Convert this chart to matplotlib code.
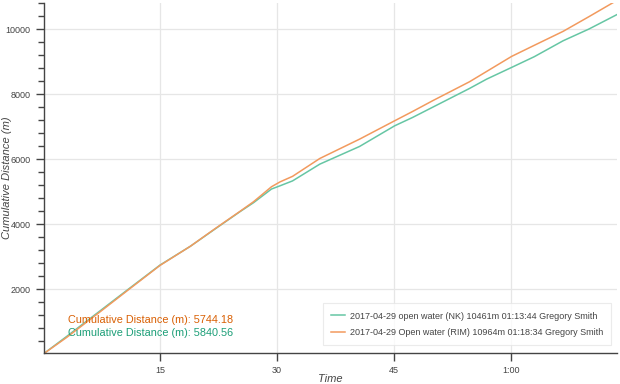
import matplotlib
matplotlib.use("Agg")
import matplotlib.pyplot as plt
from matplotlib.ticker import FixedLocator, MultipleLocator, FuncFormatter

plt.rcParams['font.family'] = ['Liberation Sans', 'DejaVu Sans']

# elapsed time in minutes, cumulative distance in metres
t_nk = [0, 3, 7.3, 11, 15, 18.9, 22, 25.3, 27, 29.3, 30.4, 32, 35.5, 40.6,
        45.1, 47.4, 50, 54.7, 56.9, 60.1, 63, 66.7, 70, 73.73]
d_nk = [0, 540, 1330, 2010, 2740, 3320, 3840, 4390, 4660, 5080, 5180, 5330,
        5846, 6390, 7025, 7282, 7600, 8174, 8461, 8821, 9150, 9640, 10000, 10461]

t_rim = [0, 3, 7.3, 11, 15, 18.9, 22, 25.3, 27, 29.3, 30.4, 32, 35.5, 40.6,
         45.1, 47.4, 50, 54.7, 60.1, 63, 66.7, 70, 73.3, 74.2]
d_rim = [0, 510, 1300, 1990, 2730, 3320, 3850, 4400, 4690, 5150, 5300, 5470,
         6020, 6615, 7180, 7466, 7800, 8380, 9160, 9500, 9930, 10380, 10840, 10964]

label_nk = "2017-04-29 open water (NK) 10461m 01:13:44 Gregory Smith"
label_rim = "2017-04-29 Open water (RIM) 10964m 01:18:34 Gregory Smith"
hover_rim = "Cumulative Distance (m): 5744.18"
hover_nk = "Cumulative Distance (m): 5840.56"

green = "#1b9e77"
orange = "#d95f02"
green_line = "#66c6a4"
orange_line = "#f29a5e"

fig = plt.figure(figsize=(6.2, 3.84), dpi=100)
ax = fig.add_axes([0.071, 0.081, 0.924, 0.911])

ax.plot(t_nk, d_nk, color=green_line, lw=1.1, label=label_nk)
ax.plot(t_rim, d_rim, color=orange_line, lw=1.1, label=label_rim)

ax.set_xlim(0.13, 73.6)
ax.set_ylim(40, 10800)

ax.xaxis.set_major_locator(FixedLocator([15, 30, 45, 60]))
ax.xaxis.set_major_formatter(FuncFormatter(
    lambda v, p: "%d:%02d" % (v // 60, v % 60) if v >= 60 else "%d" % v))
ax.yaxis.set_major_locator(MultipleLocator(2000))
ax.yaxis.set_minor_locator(MultipleLocator(400))
ax.yaxis.set_major_formatter(FuncFormatter(lambda v, p: "" if v <= 0 else "%d" % v))

ax.grid(True, color="#e6e6e6", lw=0.9)
ax.set_axisbelow(True)
for s in ["top", "right"]:
    ax.spines[s].set_visible(False)
for s in ["left", "bottom"]:
    ax.spines[s].set_color("#444444")
    ax.spines[s].set_linewidth(1.0)
ax.tick_params(axis="both", which="major", direction="out", length=6,
               width=1, color="#444444", labelsize=6.5, labelcolor="#444444")
ax.tick_params(axis="y", which="minor", direction="out", length=4,
               width=1, color="#444444")

ax.set_xlabel("Time", fontsize=8, style="italic", color="#444444")
ax.set_ylabel("Cumulative Distance (m)", fontsize=8, style="italic", color="#444444")
ax.xaxis.set_label_coords(0.5, -0.06)
ax.yaxis.set_label_coords(-0.056, 0.5)

ax.text(0.042, 0.086, hover_rim, transform=ax.transAxes, color=orange, fontsize=7.8)
ax.text(0.042, 0.049, hover_nk, transform=ax.transAxes, color=green, fontsize=7.8)

leg = ax.legend(loc="lower right", bbox_to_anchor=(0.9895, 0.023), fontsize=6.5,
                frameon=True, fancybox=False, edgecolor="#e6e6e6",
                handlelength=1.5, handletextpad=0.5, borderpad=0.9,
                borderaxespad=0, labelspacing=0.8, labelcolor="#444444")
leg.get_frame().set_linewidth(0.8)

fig.savefig("out.png", dpi=100)
